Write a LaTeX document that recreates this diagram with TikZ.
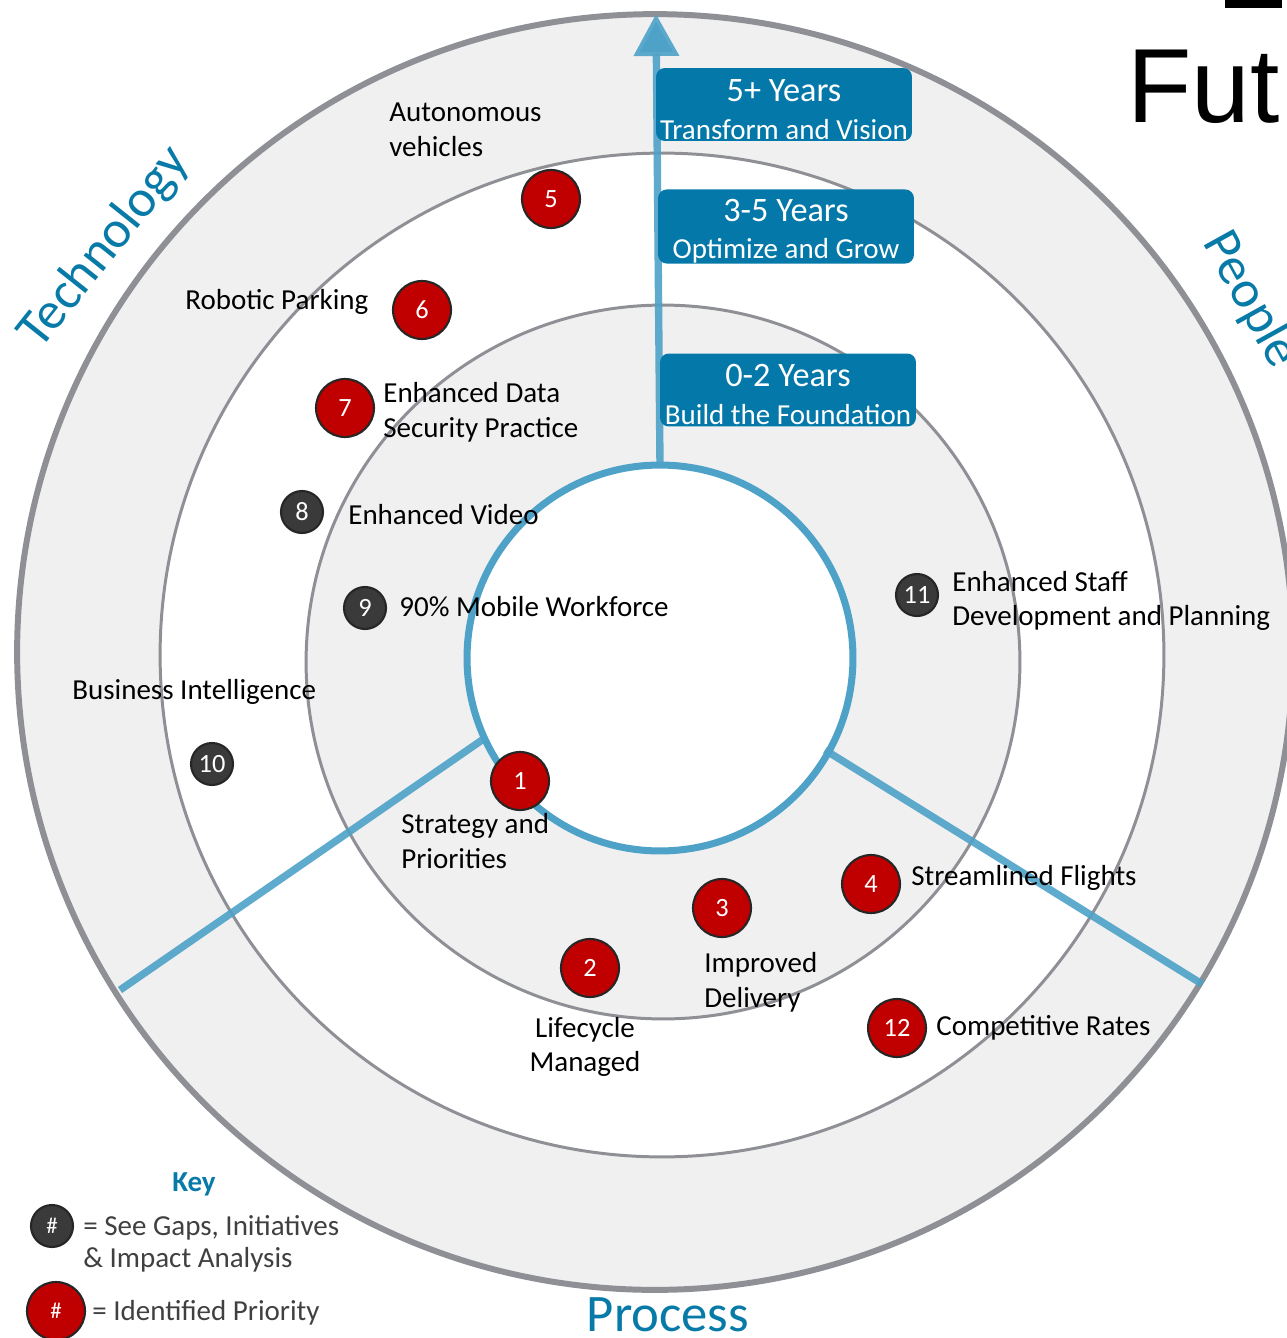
\documentclass[tikz,border=0pt]{standalone}
\usepackage{fontspec}
\setmainfont{Carlito}
\newfontfamily\titlefont{Liberation Sans}
\usetikzlibrary{arrows.meta}

\definecolor{ringgray}{RGB}{240,240,240}
\definecolor{edgegray}{RGB}{142,144,150}
\definecolor{lineblue}{RGB}{78,162,200}
\definecolor{boxblue}{RGB}{4,120,168}
\definecolor{textblue}{RGB}{8,122,168}
\definecolor{prioRed}{RGB}{192,0,0}
\definecolor{gapgray}{RGB}{58,58,58}
\definecolor{keytext}{RGB}{64,64,64}

\newcommand\yearline[1]{\rule{0pt}{18pt}{\fontsize{19.5}{21}\selectfont #1}}

\begin{document}
\begin{tikzpicture}[x=0.02cm, y=-0.02cm,
  ring/.style={draw=edgegray, line width=1.7pt},
  spoke/.style={draw=lineblue, line width=4.2pt, draw opacity=0.9},
  horizon/.style={fill=boxblue, rounded corners=5pt, text=white, align=center,
    minimum width=5.12cm, minimum height=1.46cm, inner sep=0pt,
    font=\fontsize{16.5}{21.5}\selectfont},
  prio/.style={circle, draw=black!85, line width=1.2pt, fill=prioRed, text=white,
    minimum size=1.16cm, inner sep=0pt, font=\fontsize{15}{15}\selectfont},
  gap/.style={prio, fill=gapgray, minimum size=0.84cm},
  lbl/.style={anchor=west, align=left, inner sep=0pt, font=\fontsize{16.5}{19.8}\selectfont},
  pillar/.style={text=textblue, font=\fontsize{30}{30}\selectfont, inner sep=0pt},
  keyline/.style={anchor=west, align=left, inner sep=0pt, text=keytext,
    font=\fontsize{16.5}{18}\selectfont}]
  \useasboundingbox (0,0) rectangle (1286,1338);

  % Draw the rings
  \draw[ring, fill=ringgray, line width=3.4pt] (655,652) circle [radius=12.76cm];
  \draw[ring, fill=white] (662,655) circle [radius=10.04cm];
  \draw[ring, fill=ringgray] (663,662) circle [radius=7.14cm];
  \draw[draw=lineblue, line width=4pt, fill=white] (660,658) circle [radius=3.86cm];

  % spokes and time arrow
  \coordinate (axisFoot) at (660,466);
  \coordinate (axisTip) at (656,14);
  \coordinate (techIn) at (485,738);
  \coordinate (techOut) at (120,990);
  \coordinate (peopleIn) at (825,750);
  \coordinate (peopleOut) at (1202,984);
  \draw[spoke, -{Triangle[width=0.88cm,length=0.84cm]}] (axisFoot) -- (axisTip);
  \draw[spoke] (techIn) -- (techOut);
  \draw[spoke] (peopleIn) -- (peopleOut);

  % horizons
  \node[horizon] (far) at (784,104.5) {\yearline{5+ Years}\\Transform and Vision};
  \node[horizon] (mid) at (786,226.5) {\yearline{3-5 Years}\\Optimize and Grow};
  \node[horizon] (near) at (788,390) {\yearline{0-2 Years}\\Build the Foundation};

  % pillars
  \node[pillar, rotate=51.5] (tech) at (105,248) {Technology};
  \node[pillar, rotate=-61] (people) at (1250,300) {People};
  \node[pillar, anchor=base] (process) at (668,1331) {Process};

  % title
  \fill (1225,0) rectangle (1282,8);
  \node[anchor=base west, inner sep=0pt, font=\titlefont\fontsize{60}{60}\selectfont] (title) at (1127,123) {Fut};

  % badges
  \node[prio] (p1) at (520,781) {1};
  \node[prio] (p2) at (590,968) {2};
  \node[prio] (p3) at (722,908) {3};
  \node[prio] (p4) at (871,884) {4};
  \node[prio] (p5) at (551,199) {5};
  \node[prio] (p6) at (422,310) {6};
  \node[prio] (p7) at (345,408) {7};
  \node[gap] (g8) at (302,512) {8};
  \node[gap] (g9) at (365,608) {9};
  \node[gap] (g10) at (212,764) {10};
  \node[gap] (g11) at (917,595) {11};
  \node[prio] (p12) at (897,1028) {12};

  % labels
  \node[lbl] (autoLbl) at (389,130) {Autonomous\\vehicles};
  \node[lbl] (parkLbl) at (185,302) {Robotic Parking};
  \node[lbl] (dataLbl) at (383,412) {Enhanced Data\\Security Practice};
  \node[lbl] (videoLbl) at (348,515) {Enhanced Video};
  \node[lbl] (mobileLbl) at (399,607) {90\% Mobile Workforce};
  \node[lbl] (staffLbl) at (952,601) {Enhanced Staff\\Development and Planning};
  \node[lbl] (biLbl) at (72,692) {Business Intelligence};
  \node[lbl] (stratLbl) at (401,841) {Strategy and\\Priorities};
  \node[lbl] (flightLbl) at (911,878) {Streamlined Flights};
  \node[lbl] (deliveryLbl) at (704,982) {Improved\\Delivery};
  \node[lbl, anchor=center, align=center] (lifeLbl) at (585,1047) {Lifecycle\\Managed};
  \node[lbl] (ratesLbl) at (936,1028) {Competitive Rates};

  % key
  \node[inner sep=0pt, text=textblue, font=\bfseries\fontsize{16.5}{18}\selectfont] (keyHead) at (194,1184) {Key};
  \node[gap, font=\fontsize{13}{13}\selectfont] (keyGap) at (52,1226) {\#};
  \node[keyline] (keyGapTxt) at (83,1244) {= See Gaps, Initiatives\\\& Impact Analysis};
  \node[prio, font=\fontsize{13}{13}\selectfont] (keyPrio) at (56,1311) {\#};
  \node[keyline] (keyPrioTxt) at (92,1313) {= Identified Priority};
\end{tikzpicture}
\end{document}
